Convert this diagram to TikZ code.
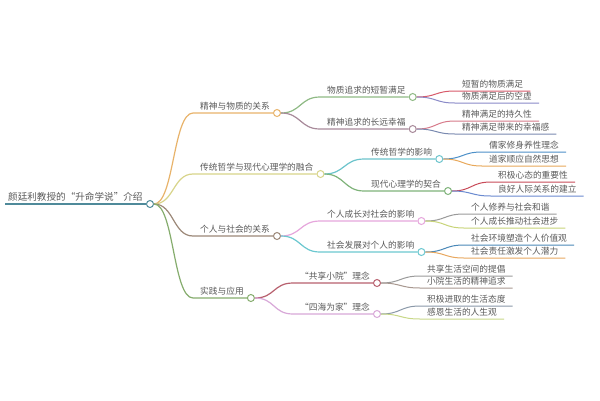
\documentclass[tikz,border=0pt]{standalone}
\usepackage{fontspec}
\newfontfamily\cjkfont[CharacterWidth=Full]{Noto Sans CJK SC}
\definecolor{txtc}{HTML}{5A5A5A}
\definecolor{root}{HTML}{4F8A9A}
\definecolor{cA}{HTML}{E8B36A}
\definecolor{cB}{HTML}{D8D48A}
\definecolor{cC}{HTML}{9C8878}
\definecolor{cD}{HTML}{86AD6E}
\definecolor{cAa}{HTML}{8FBA85}
\definecolor{cAb}{HTML}{A88A9A}
\definecolor{cBa}{HTML}{6CC4CC}
\definecolor{cBb}{HTML}{7FB37A}
\definecolor{cCa}{HTML}{E6A6DC}
\definecolor{cCb}{HTML}{6CC8D0}
\definecolor{cDa}{HTML}{B8606E}
\definecolor{cDb}{HTML}{D8A8D8}
\definecolor{l1}{HTML}{D85A6A}
\definecolor{l2}{HTML}{8A8AC8}
\definecolor{l3}{HTML}{D77A8A}
\definecolor{l4}{HTML}{7A8AB0}
\definecolor{l5}{HTML}{4D90C8}
\definecolor{l6}{HTML}{E8A85A}
\definecolor{l7}{HTML}{C84A58}
\definecolor{l8}{HTML}{6A8AD0}
\definecolor{l9}{HTML}{9A9A9A}
\definecolor{l10}{HTML}{C8D478}
\definecolor{l11}{HTML}{4A88B8}
\definecolor{l12}{HTML}{E8A860}
\definecolor{l13}{HTML}{9A9A9A}
\definecolor{l14}{HTML}{A89890}
\definecolor{l15}{HTML}{8A98A8}
\definecolor{l16}{HTML}{C8D888}
\tikzset{
  txt/.style={font=\cjkfont\fontsize{8.7}{10}\selectfont, text=txtc, inner sep=0pt, anchor=base west},
  roottxt/.style={txt, font=\cjkfont\fontsize{9.6}{11}\selectfont},
  dot/.style={circle, draw=#1, fill=white, minimum size=7pt, inner sep=0pt, line width=1pt},
  ln/.style={draw=#1, line width=1.2pt},
  lf/.style={draw=#1, line width=1pt}
}
\newcommand\mmbranch[6]{%
  \coordinate (s#1) at (#4,#5);
  \node[txt] (t#1) at (#4+7,#5-3.5) {#6};
  \node[dot=#3, xshift=7pt] (c#1) at (t#1.east |- s#1) {};
  \draw[ln=#3] (c#2.east) .. controls +(20,0) and +(-20,0) .. (s#1) -- (c#1.west);
}
\newcommand\mmleaf[6]{%
  \coordinate (s#1) at (#4,#5);
  \node[txt] (t#1) at (#4+7,#5-3.5) {#6};
  \coordinate[xshift=7pt] (e#1) at (t#1.east |- s#1);
  \draw[lf=#3] (c#2.east) .. controls +(20,0) and +(-20,0) .. (s#1) -- (e#1);
}
\begin{document}
\begin{tikzpicture}[x=1pt,y=-1pt]
\useasboundingbox (0,0) rectangle (600,400);
\fill[white] (0,0) rectangle (600,400);
% root
\coordinate (sR) at (5,204);
\node[roottxt] (tR) at (8,200.5) {颜廷利教授的“升命学说”介绍};
\node[dot=root] (cR) at (150,204) {};
\draw[ln=root] (sR) -- (cR.west);
% level 1
\mmbranch{A}{R}{cA}{193}{113}{精神与物质的关系}
\mmbranch{B}{R}{cB}{193}{174}{传统哲学与现代心理学的融合}
\mmbranch{C}{R}{cC}{193}{236}{个人与社会的关系}
\mmbranch{D}{R}{cD}{193}{298}{实践与应用}
% level 2
\mmbranch{Aa}{A}{cAa}{320}{97}{物质追求的短暂满足}
\mmbranch{Ab}{A}{cAb}{320}{129}{精神追求的长远幸福}
\mmbranch{Ba}{B}{cBa}{364}{159}{传统哲学的影响}
\mmbranch{Bb}{B}{cBb}{364}{191}{现代心理学的契合}
\mmbranch{Ca}{C}{cCa}{320}{221}{个人成长对社会的影响}
\mmbranch{Cb}{C}{cCb}{320}{252}{社会发展对个人的影响}
\mmbranch{Da}{D}{cDa}{293}{283}{“共享小院”理念}
\mmbranch{Db}{D}{cDb}{293}{314}{“四海为家”理念}
% leaves
\mmleaf{L1}{Aa}{l1}{455}{91}{短暂的物质满足}
\mmleaf{L2}{Aa}{l2}{455}{103}{物质满足后的空虚}
\mmleaf{L3}{Ab}{l3}{455}{121}{精神满足的持久性}
\mmleaf{L4}{Ab}{l4}{455}{134}{精神满足带来的幸福感}
\mmleaf{L5}{Ba}{l5}{482}{152}{儒家修身养性理念}
\mmleaf{L6}{Ba}{l6}{482}{166}{道家顺应自然思想}
\mmleaf{L7}{Bb}{l7}{491}{182}{积极心态的重要性}
\mmleaf{L8}{Bb}{l8}{491}{196}{良好人际关系的建立}
\mmleaf{L9}{Ca}{l9}{464}{214}{个人修养与社会和谐}
\mmleaf{L10}{Ca}{l10}{464}{228}{个人成长推动社会进步}
\mmleaf{L11}{Cb}{l11}{464}{245}{社会环境塑造个人价值观}
\mmleaf{L12}{Cb}{l12}{464}{258}{社会责任激发个人潜力}
\mmleaf{L13}{Da}{l13}{420}{276}{共享生活空间的提倡}
\mmleaf{L14}{Da}{l14}{420}{288}{小院生活的精神追求}
\mmleaf{L15}{Db}{l15}{420}{306}{积极进取的生活态度}
\mmleaf{L16}{Db}{l16}{420}{319}{感恩生活的人生观}
\end{tikzpicture}
\end{document}
